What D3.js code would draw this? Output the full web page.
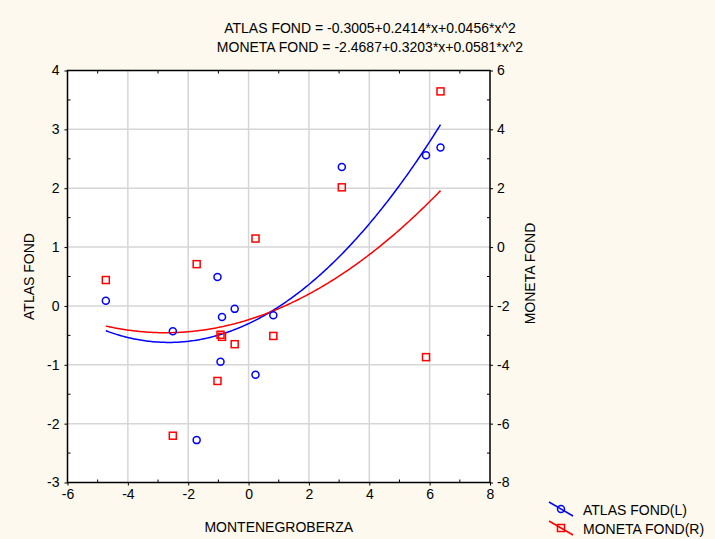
<!DOCTYPE html>
<html>
<head>
<meta charset="utf-8">
<script src="https://cdn.jsdelivr.net/npm/d3@7"></script>
<style>
  body { margin: 0; background: #fdf9ee; }
  svg { display: block; font-family: "Liberation Sans", Arial, sans-serif; }
</style>
</head>
<body>
<div id="chart"></div>
<script>
// values
const montenegro = [-4.73, -2.51, -1.72, -1.03, -0.93, -0.88, -0.46, 0.23, 0.82, 3.09, 5.88, 6.36];
const atlas = [0.09, -0.43, -2.28, 0.49, -0.95, -0.19, -0.05, -1.17, -0.16, 2.36, 2.56, 2.69];
const moneta = [-1.12, -6.41, -0.58, -4.55, -2.98, -3.05, -3.30, 0.29, -3.02, 2.03, -3.74, 5.29];

// fitted quadratics shown in the title
const atlasCoef = [-0.3005, 0.2414, 0.0456];
const monetaCoef = [-2.4687, 0.3203, 0.0581];

const xTicks = [-6, -4, -2, 0, 2, 4, 6, 8];
const leftTicks = [-3, -2, -1, 0, 1, 2, 3, 4];
const rightTicks = [-8, -6, -4, -2, 0, 2, 4, 6];

const titles = [
  "ATLAS FOND = -0.3005+0.2414*x+0.0456*x^2",
  "MONETA FOND = -2.4687+0.3203*x+0.0581*x^2"
];

const width = 715;
const height = 539;
const margin = { top: 70.5, right: 225, bottom: 56.5, left: 67.5 };
const fontSize = 14;
const blue = "#0000ff";
const red = "#ff0000";

const svg = d3.select("#chart")
  .append("svg")
  .attr("width", width)
  .attr("height", height);

const x = d3.scaleLinear()
  .domain([-6, 8])
  .range([margin.left, width - margin.right]);

const yL = d3.scaleLinear()
  .domain([-3, 4])
  .range([height - margin.bottom, margin.top]);

const yR = d3.scaleLinear()
  .domain([-8, 6])
  .range([height - margin.bottom, margin.top]);

const midX = (x.range()[0] + x.range()[1]) / 2;
const midY = (yL.range()[0] + yL.range()[1]) / 2;

// plot area
svg.append("rect")
  .attr("x", x(-6)).attr("y", yL(4))
  .attr("width", x(8) - x(-6))
  .attr("height", yL(-3) - yL(4))
  .attr("fill", "#fff");

// grid
svg.append("g")
  .selectAll("line")
  .data(xTicks.slice(1, -1))
  .join("line")
  .attr("x1", d => x(d)).attr("x2", d => x(d))
  .attr("y1", yL(4)).attr("y2", yL(-3))
  .attr("stroke", "#d6d6d6")
  .attr("stroke-width", 1.5);

svg.append("g")
  .selectAll("line")
  .data(leftTicks.slice(1, -1))
  .join("line")
  .attr("x1", x(-6)).attr("x2", x(8))
  .attr("y1", d => yL(d)).attr("y2", d => yL(d))
  .attr("stroke", "#d6d6d6")
  .attr("stroke-width", 1.5);

// minor ticks, pointing inward
const minorX = d3.range(-5, 8, 2);
const minorY = d3.range(-2.5, 4, 1);
const minor = svg.append("g").attr("stroke", "#000").attr("stroke-width", 1);
minorX.forEach(v => {
  minor.append("line").attr("x1", x(v)).attr("x2", x(v)).attr("y1", yL(-3)).attr("y2", yL(-3) - 3);
  minor.append("line").attr("x1", x(v)).attr("x2", x(v)).attr("y1", yL(4)).attr("y2", yL(4) + 3);
});
minorY.forEach(v => {
  minor.append("line").attr("x1", x(-6)).attr("x2", x(-6) + 3).attr("y1", yL(v)).attr("y2", yL(v));
  minor.append("line").attr("x1", x(8)).attr("x2", x(8) - 3).attr("y1", yL(v)).attr("y2", yL(v));
});

// axes
function styleAxis(g) {
  g.attr("font-size", fontSize)
    .attr("font-family", "Liberation Sans, Arial, sans-serif");
  g.select(".domain").remove();
  g.selectAll(".tick line").attr("stroke", "#000");
  g.selectAll(".tick text").attr("fill", "#000");
}

svg.append("g")
  .attr("transform", `translate(${x(-6)},0)`)
  .call(d3.axisLeft(yL).tickValues(leftTicks).tickSize(3).tickPadding(5).tickFormat(d3.format("d")))
  .call(styleAxis);

svg.append("g")
  .attr("transform", `translate(${x(8)},0)`)
  .call(d3.axisRight(yR).tickValues(rightTicks).tickSize(3).tickPadding(4).tickFormat(d3.format("d")))
  .call(styleAxis);

svg.append("g")
  .attr("transform", `translate(0,${yL(-3)})`)
  .call(d3.axisBottom(x).tickValues(xTicks).tickSize(3).tickPadding(4).tickFormat(d3.format("d")))
  .call(styleAxis);

// minus signs as plain hyphens like the original
svg.selectAll(".tick text").text(function () { return this.textContent.replace("\u2212", "-"); });

// fitted curves
const quad = c => v => c[0] + c[1] * v + c[2] * v * v;
const xs = d3.range(d3.min(montenegro), d3.max(montenegro), 0.05).concat([d3.max(montenegro)]);

svg.append("path")
  .datum(xs)
  .attr("fill", "none")
  .attr("stroke", blue)
  .attr("stroke-width", 1.5)
  .attr("d", d3.line().x(d => x(d)).y(d => yL(quad(atlasCoef)(d))));

svg.append("path")
  .datum(xs)
  .attr("fill", "none")
  .attr("stroke", red)
  .attr("stroke-width", 1.5)
  .attr("d", d3.line().x(d => x(d)).y(d => yR(quad(monetaCoef)(d))));

// points
svg.append("g")
  .selectAll("circle")
  .data(montenegro)
  .join("circle")
  .attr("cx", d => x(d))
  .attr("cy", (d, i) => yL(atlas[i]))
  .attr("r", 3.5)
  .attr("fill", "none")
  .attr("stroke", blue)
  .attr("stroke-width", 1.5);

svg.append("g")
  .selectAll("rect")
  .data(montenegro)
  .join("rect")
  .attr("x", d => x(d) - 3.5)
  .attr("y", (d, i) => yR(moneta[i]) - 3.5)
  .attr("width", 7)
  .attr("height", 7)
  .attr("fill", "none")
  .attr("stroke", red)
  .attr("stroke-width", 1.5);

// frame
svg.append("rect")
  .attr("x", x(-6)).attr("y", yL(4))
  .attr("width", x(8) - x(-6))
  .attr("height", yL(-3) - yL(4))
  .attr("fill", "none")
  .attr("stroke", "#000")
  .attr("stroke-width", 1.5);

// titles
svg.append("g")
  .selectAll("text")
  .data(titles)
  .join("text")
  .attr("x", 370)
  .attr("y", (d, i) => 33 + i * 19)
  .attr("text-anchor", "middle")
  .attr("font-size", fontSize)
  .text(d => d);

svg.append("text")
  .attr("transform", `translate(34,${midY}) rotate(-90)`)
  .attr("text-anchor", "middle")
  .attr("font-size", fontSize)
  .text("ATLAS FOND");

svg.append("text")
  .attr("transform", `translate(535,${midY - 3}) rotate(-90)`)
  .attr("text-anchor", "middle")
  .attr("font-size", fontSize)
  .text("MONETA FOND");

svg.append("text")
  .attr("x", midX)
  .attr("y", 532)
  .attr("text-anchor", "middle")
  .attr("font-size", fontSize)
  .text("MONTENEGROBERZA");

// legend
const legend = svg.append("g");
const items = [
  { label: "ATLAS FOND(L)", color: blue, shape: "circle", y: 509 },
  { label: "MONETA FOND(R)", color: red, shape: "square", y: 528 }
];
items.forEach(it => {
  legend.append("line")
    .attr("x1", 549).attr("y1", it.y - 7)
    .attr("x2", 573).attr("y2", it.y + 7)
    .attr("stroke", it.color).attr("stroke-width", 1.5);
  if (it.shape === "circle") {
    legend.append("circle").attr("cx", 561).attr("cy", it.y).attr("r", 3.5)
      .attr("fill", "none").attr("stroke", it.color).attr("stroke-width", 1.5);
  } else {
    legend.append("rect").attr("x", 557.5).attr("y", it.y - 3.5).attr("width", 7).attr("height", 7)
      .attr("fill", "none").attr("stroke", it.color).attr("stroke-width", 1.5);
  }
  legend.append("text")
    .attr("x", 583).attr("y", it.y + 5.5)
    .attr("font-size", fontSize)
    .text(it.label);
});
</script>
</body>
</html>
